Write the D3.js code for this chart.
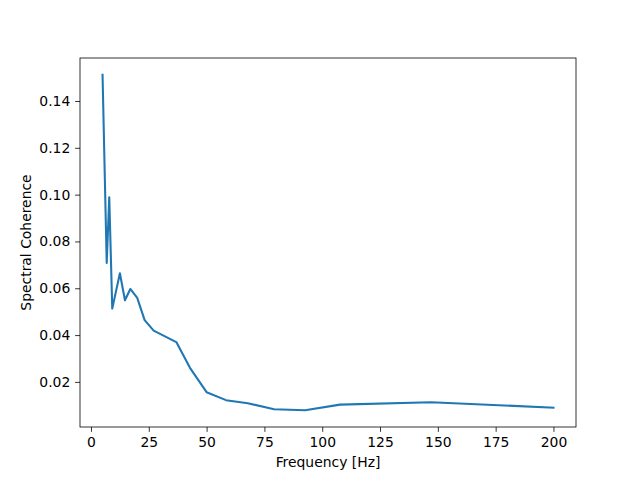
<!DOCTYPE html>
<html><head><meta charset="utf-8">
<script src="https://cdn.jsdelivr.net/npm/d3@7"></script>
<style>body{margin:0;background:#fff}svg{display:block}text{font-family:"DejaVu Sans",sans-serif}</style>
</head><body>
<svg id="c" width="640" height="480"></svg>
<script>
const freqs = [5, 6.8, 7.9, 9.2, 12.5, 14.7, 17.0, 20.0, 23.2, 27.1, 36.9, 42.8, 50.0, 58.4, 67.8, 79.2, 92.6, 107.7, 147.1, 200];
const coherence = [0.1512, 0.0708, 0.0989, 0.0513, 0.0664, 0.0549, 0.0597, 0.0559, 0.0464, 0.0419, 0.0370, 0.0260, 0.0156, 0.0122, 0.0109, 0.0083, 0.0079, 0.0103, 0.0113, 0.0090];
const xTicks = [0, 25, 50, 75, 100, 125, 150, 175, 200];
const yTicks = [0.02, 0.04, 0.06, 0.08, 0.10, 0.12, 0.14];
const xLabel = "Frequency [Hz]";
const yLabel = "Spectral Coherence";

const L = 80, R = 576, T = 58, B = 427;
const svg = d3.select("#c");
const xmin = d3.min(freqs), xmax = d3.max(freqs), xm = (xmax - xmin) * 0.05;
const ymin = d3.min(coherence), ymax = d3.max(coherence), ym = (ymax - ymin) * 0.05;
const x = d3.scaleLinear().domain([xmin - xm, xmax + xm]).range([L, R]);
const y = d3.scaleLinear().domain([ymin - ym, ymax + ym]).range([B, T]);

const fs = 13.9, tl = 4.86;
const xa = svg.append("g").attr("transform", `translate(0,${B})`)
  .call(d3.axisBottom(x).tickValues(xTicks).tickFormat(d3.format("d")).tickSize(tl).tickPadding(4.86));
const ya = svg.append("g").attr("transform", `translate(${L},0)`)
  .call(d3.axisLeft(y).tickValues(yTicks).tickFormat(d3.format(".2f")).tickSize(tl).tickPadding(4.86));
[xa, ya].forEach(a => {
  a.select(".domain").remove();
  a.selectAll("line").attr("stroke", "#000").attr("stroke-width", 0.8);
  a.selectAll("text").attr("font-size", fs).attr("fill", "#000").attr("font-family", "DejaVu Sans");
});

svg.append("path").datum(freqs.map((f, i) => [f, coherence[i]]))
  .attr("fill", "none").attr("stroke", "#1f77b4").attr("stroke-width", 2.08)
  .attr("stroke-linejoin", "round").attr("stroke-linecap", "square")
  .attr("d", d3.line().x(d => x(d[0])).y(d => y(d[1])));

svg.append("rect").attr("x", L).attr("y", T).attr("width", R - L).attr("height", B - T)
  .attr("fill", "none").attr("stroke", "#000").attr("stroke-width", 0.8);

svg.append("text").attr("x", (L + R) / 2).attr("y", 467).attr("text-anchor", "middle")
  .attr("font-size", fs).text(xLabel);
svg.append("text").attr("transform", `translate(30.5,${(T + B) / 2}) rotate(-90)`)
  .attr("text-anchor", "middle").attr("font-size", fs).text(yLabel);
</script>
</body></html>
